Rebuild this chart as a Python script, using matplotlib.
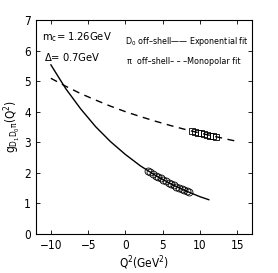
import matplotlib
matplotlib.use('Agg')
from matplotlib import pyplot as plt
import numpy as np

plt.rcParams['font.family'] = ['DejaVu Sans']
plt.rcParams['font.stretch'] = 'condensed'
plt.rcParams['mathtext.fontset'] = 'custom'
plt.rcParams['mathtext.rm'] = 'DejaVu Sans:stretch=condensed'
plt.rcParams['mathtext.it'] = 'DejaVu Sans:stretch=condensed'

# exponential fit (D0 off-shell)
exp_q2 = [-10, -8, -6, -4, -2, 0, 2, 4, 6, 8, 10, 11.2]
exp_g = [5.53, 4.75, 4.09, 3.51, 3.02, 2.60, 2.23, 1.92, 1.65, 1.42, 1.22, 1.12]

# monopolar fit (pi off-shell)
mono_q2 = [-10, -8, -6, -4, -2, 0, 2, 4, 6, 8, 10, 12, 14, 15]
mono_g = [5.09, 4.83, 4.59, 4.38, 4.18, 4.00, 3.84, 3.69, 3.55, 3.42, 3.30, 3.19, 3.08, 3.03]

# sum rule points
d0_q2 = [3.0, 3.35, 3.7, 4.05, 4.4, 4.75, 5.1, 5.45, 5.8, 6.15, 6.5, 6.85, 7.2, 7.55, 7.9, 8.25, 8.6]
d0_g = [2.07, 2.02, 1.97, 1.91, 1.86, 1.82, 1.77, 1.72, 1.68, 1.63, 1.59, 1.55, 1.51, 1.47, 1.43, 1.39, 1.36]

pi_q2 = [9.0, 9.4, 9.8, 10.2, 10.6, 11.0, 11.4, 11.8, 12.2]
pi_g = [3.36, 3.34, 3.31, 3.29, 3.27, 3.24, 3.22, 3.20, 3.18]

fig = plt.figure(figsize=(2.78, 2.73), dpi=100)
ax = fig.add_axes([0.1295, 0.143, 0.777, 0.784])

ax.plot(exp_q2, exp_g, 'k-', lw=1.0)
ax.plot(mono_q2, mono_g, 'k--', lw=1.0, dashes=(5, 4))
ax.plot(d0_q2, d0_g, 'o', mfc='none', mec='k', ms=5, mew=0.6)
ax.plot(pi_q2, pi_g, 's', mfc='none', mec='k', ms=4.5, mew=0.6)

ax.set_xlim(-12, 17)
ax.set_ylim(0, 7)
ax.set_xticks([-10, -5, 0, 5, 10, 15])
ax.set_yticks(range(0, 8))
ax.tick_params(direction='in', top=True, right=True, labelsize=8.5, length=3, width=0.6)
for s in ax.spines.values():
    s.set_linewidth(0.8)

ax.set_xlabel('Q$^2$(GeV$^2$)', fontsize=8.5, labelpad=2)
ax.set_ylabel(r'g$_{D_1 D_0 \pi}$(Q$^2$)', fontsize=8.5, labelpad=1)

ax.text(-11.2, 6.44, 'm$_c$= 1.26GeV', fontsize=8, va='center')
ax.text(-10.9, 5.79, r'$\Delta$= 0.7GeV', fontsize=8, va='center')
ax.text(0.0, 6.3, 'D$_0$ off\u2013shell\u2014\u2014 Exponential fit', fontsize=6.4, va='center')
ax.text(0.2, 5.65, '\u03c0  off\u2013shell\u2013 \u2013 \u2013Monopolar fit', fontsize=6.4, va='center')

fig.savefig('out.png', dpi=100)
